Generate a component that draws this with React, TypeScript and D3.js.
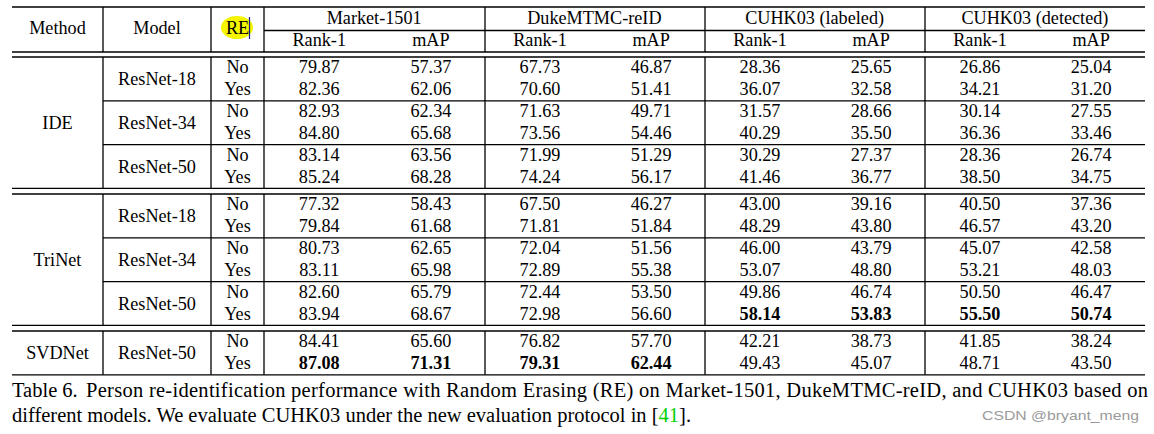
import React from "react";
import * as d3 from "d3";

const datasets = ["Market-1501", "DukeMTMC-reID", "CUHK03 (labeled)", "CUHK03 (detected)"];
const metrics = ["Rank-1", "mAP"];
const methods = ["IDE", "TriNet", "SVDNet"];
const modelsByMethod = [
  ["ResNet-18", "ResNet-34", "ResNet-50"],
  ["ResNet-18", "ResNet-34", "ResNet-50"],
  ["ResNet-50"],
];
const reLabels = ["No", "Yes"];

const ideValues = [
  ["79.87", "57.37", "67.73", "46.87", "28.36", "25.65", "26.86", "25.04"],
  ["82.36", "62.06", "70.60", "51.41", "36.07", "32.58", "34.21", "31.20"],
  ["82.93", "62.34", "71.63", "49.71", "31.57", "28.66", "30.14", "27.55"],
  ["84.80", "65.68", "73.56", "54.46", "40.29", "35.50", "36.36", "33.46"],
  ["83.14", "63.56", "71.99", "51.29", "30.29", "27.37", "28.36", "26.74"],
  ["85.24", "68.28", "74.24", "56.17", "41.46", "36.77", "38.50", "34.75"],
];
const trinetValues = [
  ["77.32", "58.43", "67.50", "46.27", "43.00", "39.16", "40.50", "37.36"],
  ["79.84", "61.68", "71.81", "51.84", "48.29", "43.80", "46.57", "43.20"],
  ["80.73", "62.65", "72.04", "51.56", "46.00", "43.79", "45.07", "42.58"],
  ["83.11", "65.98", "72.89", "55.38", "53.07", "48.80", "53.21", "48.03"],
  ["82.60", "65.79", "72.44", "53.50", "49.86", "46.74", "50.50", "46.47"],
  ["83.94", "68.67", "72.98", "56.60", "58.14", "53.83", "55.50", "50.74"],
];
const svdnetValues = [
  ["84.41", "65.60", "76.82", "57.70", "42.21", "38.73", "41.85", "38.24"],
  ["87.08", "71.31", "79.31", "62.44", "49.43", "45.07", "48.71", "43.50"],
];
const valuesByMethod = [ideValues, trinetValues, svdnetValues];
// bold cells: [method, row, col]
const boldCells = [
  [1, 5, 4], [1, 5, 5], [1, 5, 6], [1, 5, 7],
  [2, 1, 0], [2, 1, 1], [2, 1, 2], [2, 1, 3],
];

const captionLine1a = "Table 6.";
const captionLine1b = "Person re-identification performance with Random Erasing (RE) on Market-1501, DukeMTMC-reID, and CUHK03 based on";
const captionLine2a = "different models. We evaluate CUHK03 under the new evaluation protocol in [";
const captionRef = "41";
const captionLine2c = "].";
const watermark = "CSDN @bryant_meng";

const FONT = "'Liberation Serif', 'Times New Roman', serif";
const FS = 18.2;
const CFS = 20.5;

export default function App() {
  const W = 1154, H = 434;
  const left = 12, right = 1145;
  const colBounds = [12, 103, 211, 264, 485, 705, 925, 1145];
  const groupX = d3.scaleLinear().domain([0, 4]).range([264, 1145]);
  const subX = (g: number, m: number) => {
    const x0 = colBounds[3 + g], x1 = colBounds[4 + g];
    return x0 + (x1 - x0) * (m === 0 ? 0.25 : 0.755);
  };
  const blockStarts = [57, 194, 331];
  const subH = 43.8;
  const yTop = 7, ySub = 30.5, yHd1 = 52, yHd2 = 57;
  const blockEnd = (b: number) => blockStarts[b] + modelsByMethod[b].length * subH;
  const lw = 1.3;

  const lines: JSX.Element[] = [];
  const texts: JSX.Element[] = [];
  let k = 0;
  const hl = (x1: number, x2: number, y: number) =>
    lines.push(<line key={"l" + k++} x1={x1} x2={x2} y1={y} y2={y} stroke="#000" strokeWidth={lw} />);
  const vl = (x: number, y1: number, y2: number) =>
    lines.push(<line key={"l" + k++} x1={x} x2={x} y1={y1} y2={y2} stroke="#000" strokeWidth={lw} />);

  hl(left, right, yTop);
  hl(264, right, ySub);
  hl(left, right, yHd1);
  hl(left, right, yHd2);
  [103, 211, 264, 485, 705, 925].forEach((x) => vl(x, yTop, yHd1));

  methods.forEach((m, b) => {
    const y0 = blockStarts[b];
    const y1 = blockEnd(b);
    if (b > 0) hl(left, right, y0);
    hl(left, right, y1);
    [103, 211, 264, 485, 705, 925].forEach((x) => vl(x, y0, y1));
    modelsByMethod[b].forEach((_, i) => {
      if (i > 0) hl(103, right, y0 + i * subH);
    });
  });

  texts.push(<text key="hm" x={57.5} y={34} textAnchor="middle">Method</text>);
  texts.push(<text key="hmo" x={157} y={34} textAnchor="middle">Model</text>);
  datasets.forEach((d, g) => {
    texts.push(<text key={"hd" + g} x={(groupX(g) + groupX(g + 1)) / 2} y={24} textAnchor="middle">{d}</text>);
    metrics.forEach((mt, m) => {
      texts.push(<text key={"hmt" + g + m} x={subX(g, m)} y={46} textAnchor="middle">{mt}</text>);
    });
  });

  methods.forEach((m, b) => {
    const y0 = blockStarts[b];
    const y1 = blockEnd(b);
    texts.push(<text key={"m" + b} x={57.5} y={(y0 + y1) / 2 + 6.5} textAnchor="middle">{m}</text>);
    modelsByMethod[b].forEach((md, i) => {
      const sy = y0 + i * subH;
      texts.push(<text key={"md" + b + i} x={157} y={sy + subH / 2 + 6.5} textAnchor="middle">{md}</text>);
      reLabels.forEach((re, r) => {
        const by = sy + (r === 0 ? 16.3 : 38);
        texts.push(<text key={"re" + b + i + r} x={237.5} y={by} textAnchor="middle">{re}</text>);
        const row = valuesByMethod[b][i * 2 + r];
        row.forEach((v, c) => {
          const g = Math.floor(c / 2), mm = c % 2;
          const bold = boldCells.some(([bb, rr, cc]) => bb === b && rr === i * 2 + r && cc === c);
          texts.push(
            <text key={"v" + b + i + r + c} x={subX(g, mm)} y={by} textAnchor="middle" fontWeight={bold ? "bold" : "normal"}>{v}</text>
          );
        });
      });
    });
  });

  return (
    <svg width={W} height={H} style={{ position: "absolute", left: 0, top: 0, background: "#fff" }}>
      <rect x={0} y={0} width={W} height={H} fill="#fff" />
      <ellipse cx={237} cy={27.5} rx={16} ry={11.5} fill="#f5f500" />
      <g fontFamily={FONT} fontSize={FS} fill="#000">
        {texts}
        <text x={237.5} y={34} textAnchor="middle">RE</text>
      </g>
      <line x1={249.5} x2={249.5} y1={17} y2={39} stroke="#1a1a8c" strokeWidth={1.2} />
      {lines}
      <g fontFamily={FONT} fontSize={CFS} fill="#000">
        <text x={12} y={397}>{captionLine1a}</text>
        <text x={86} y={397} textLength={1148 - 86} lengthAdjust="spacing">{captionLine1b}</text>
        <text x={12} y={422}>
          {captionLine2a}
          <tspan fill="#00d000">{captionRef}</tspan>
          {captionLine2c}
        </text>
      </g>
      <text x={982} y={420} fontFamily="'Liberation Sans', Arial, sans-serif" fontSize={13.5} fill="#9a9a9a" textLength={157} lengthAdjust="spacingAndGlyphs">{watermark}</text>
    </svg>
  );
}
